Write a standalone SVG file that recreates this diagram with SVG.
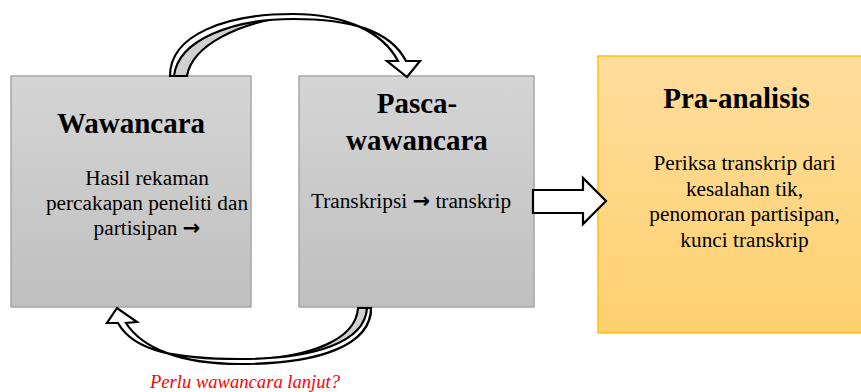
<svg xmlns="http://www.w3.org/2000/svg" width="861" height="392" viewBox="0 0 861 392">
<defs>
<linearGradient id="gGray" x1="0" y1="0" x2="0" y2="1">
<stop offset="0" stop-color="#d5d5d5"/>
<stop offset="1" stop-color="#bfbfbf"/>
</linearGradient>
<linearGradient id="gGold" x1="0" y1="0" x2="0" y2="1">
<stop offset="0" stop-color="#fedd9c"/>
<stop offset="1" stop-color="#ffd06f"/>
</linearGradient>
<style>
.grayBox{fill:url(#gGray);stroke:#a6a6a6;stroke-width:1.5}
.goldBox{fill:url(#gGold);stroke:#ffc20e;stroke-width:1.5}
.title{font-family:"Liberation Serif","Times New Roman",serif;font-weight:bold;font-size:29px;fill:#000;text-anchor:middle}
.body{font-family:"Liberation Serif","Times New Roman","DejaVu Serif",serif;font-size:21.3px;fill:#000;text-anchor:middle}
.arr{font-family:"DejaVu Sans",sans-serif;font-size:21px;font-weight:bold}
.conn{stroke:#000;stroke-width:2.2;stroke-linejoin:miter}
.note{font-family:"Liberation Serif","Times New Roman",serif;font-style:italic;font-size:18.6px;fill:#ff0000;text-anchor:middle}
</style>
</defs>
<g id="node-wawancara">
<rect class="grayBox" x="11" y="76" width="240" height="231"/>
<text class="title" x="131" y="133">Wawancara</text>
<text class="body" x="147" y="185">Hasil rekaman</text>
<text class="body" x="147" y="210">percakapan peneliti dan</text>
<text class="body" x="147" y="235">partisipan <tspan class="arr">→</tspan></text>
</g>
<g id="node-pasca">
<rect class="grayBox" x="299" y="76" width="235" height="231"/>
<text class="title" x="417" y="113">Pasca-</text>
<text class="title" x="417" y="150">wawancara</text>
<text class="body" x="411" y="208">Transkripsi <tspan class="arr">→</tspan> transkrip</text>
</g>
<g id="node-pra">
<rect class="goldBox" x="598" y="56" width="280" height="277"/>
<text class="title" x="736.5" y="108">Pra-analisis</text>
<text class="body" x="744.5" y="170">Periksa transkrip dari</text>
<text class="body" x="744.5" y="195.5">kesalahan tik,</text>
<text class="body" x="744.5" y="221">penomoran partisipan,</text>
<text class="body" x="744.5" y="246.5">kunci transkrip</text>
</g>
<g id="connectors">
<path class="conn" fill="#d0d0d0" d="M171,76 C171,40 220,18 293,16 C240,22 192,45 187,76 Z"/>
<path class="conn" fill="#fff" d="M170,76 C170,35 225,14 293,14 C345,14 383,32 398,61 L387,61 L407,77 L420,61 L406,61 C390,30 350,19 293,19 C232,19 178,40 174,76 Z"/>
<path class="conn" fill="#d0d0d0" d="M358,308 C356,340 310,357 250,360 C320,362 371,345 371,308 Z"/>
<path class="conn" fill="#fff" d="M371,308 C371,345 320,364 240,364 C180,364 142,348 126,323 L137,322 L117,308 L107,323 L118,323 C134,352 178,359 240,359 C315,359 365,342 367,308 Z"/>
<path class="conn" fill="#fff" stroke-width="3" d="M533,190 L583,190 L583,178 L606,201 L583,224 L583,213 L533,213 Z"/>
<text class="note" x="245" y="388">Perlu wawancara lanjut?</text>
</g>
</svg>
